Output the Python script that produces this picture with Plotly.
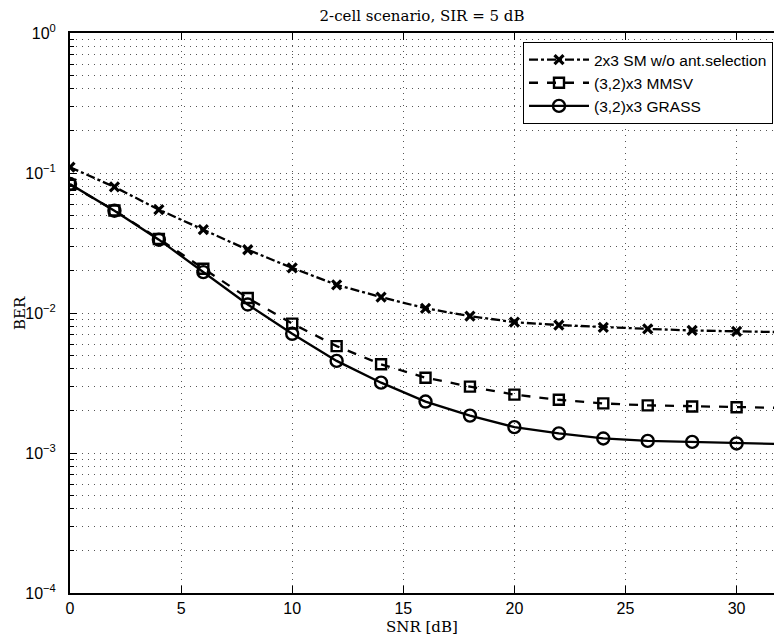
import plotly.graph_objects as go

snr = [0, 2, 4, 6, 8, 10, 12, 14, 16, 18, 20, 22, 24, 26, 28, 30, 32]
ber_sm = [0.110, 0.0795, 0.0547, 0.0394, 0.0283, 0.0210, 0.0159, 0.0130, 0.0108,
          0.0095, 0.0086, 0.0082, 0.0079, 0.0077, 0.0075, 0.0074, 0.0073]
ber_mmsv = [0.0825, 0.0540, 0.0338, 0.0207, 0.0128, 0.0084, 0.0058, 0.0043, 0.00345,
            0.00298, 0.00261, 0.0024, 0.00226, 0.00219, 0.00215, 0.00212, 0.0021]
ber_grass = [0.0834, 0.0538, 0.0334, 0.0196, 0.0115, 0.0071, 0.00455, 0.00318, 0.00233,
             0.00185, 0.00153, 0.00138, 0.00127, 0.00122, 0.0012, 0.00117, 0.00116]

names = ["2x3 SM w/o ant.selection", "(3,2)x3 MMSV", "(3,2)x3 GRASS"]

y_major = [1e-4, 1e-3, 1e-2, 1e-1, 1]
y_major_text = ["10<sup>\u22124</sup>", "10<sup>\u22123</sup>", "10<sup>\u22122</sup>",
                "10<sup>\u22121</sup>", "10<sup>0</sup>"]
y_minor = [k * 10.0 ** e for e in range(-4, 0) for k in range(2, 10)]
x_ticks = [0, 5, 10, 15, 20, 25, 30]

serif = "DejaVu Serif"
sans = "Liberation Sans, Arial, sans-serif"

fig = go.Figure()
fig.add_trace(go.Scatter(
    x=snr, y=ber_sm, name=names[0], mode="lines+markers",
    line=dict(color="black", width=2.3, dash="dashdot"),
    marker=dict(symbol="x-thin-open", size=9, color="black", line=dict(width=3.2, color="black")),
))
fig.add_trace(go.Scatter(
    x=snr, y=ber_mmsv, name=names[1], mode="lines+markers",
    line=dict(color="black", width=2.3, dash="dash"),
    marker=dict(symbol="square-open", size=10, color="black", line=dict(width=2.4, color="black")),
))
fig.add_trace(go.Scatter(
    x=snr, y=ber_grass, name=names[2], mode="lines+markers",
    line=dict(color="black", width=2.3, dash="solid"),
    marker=dict(symbol="circle-open", size=12, color="black", line=dict(width=2.4, color="black")),
))

grid = dict(gridcolor="#555", gridwidth=1, griddash="1px,5px")

fig.update_layout(
    width=774, height=639,
    margin=dict(l=70, r=0, t=33, b=46),
    paper_bgcolor="white", plot_bgcolor="white",
    title=dict(text="2-cell scenario, SIR = 5 dB", x=0.5, xref="paper", xanchor="center",
               y=1 - 16 / 639, yanchor="middle", font=dict(family=serif, size=15, color="black")),
    font=dict(family=sans, size=16, color="black"),
    showlegend=True,
    legend=dict(x=(773 - 70) / 704, xanchor="right", y=(593 - 42) / 560, yanchor="top",
                bgcolor="white", bordercolor="black", borderwidth=1,
                font=dict(family=sans, size=15.5, color="black"),
                itemwidth=60, tracegroupgap=0),
    xaxis=dict(range=[0, 704 / 22.22], tickvals=x_ticks, ticks="inside", ticklen=7,
               tickcolor="black", tickwidth=1, showline=True, linecolor="black", linewidth=2,
               mirror="allticks", showgrid=True, zeroline=False, **grid,
               tickfont=dict(family=sans, size=16, color="black")),
    yaxis=dict(type="log", range=[-4, 0], tickvals=y_major, ticktext=y_major_text,
               ticks="inside", ticklen=7, tickcolor="black", tickwidth=1,
               showline=True, linecolor="black", linewidth=2, mirror=False,
               showgrid=True, zeroline=False, **grid, ticklabelstandoff=9,
               tickfont=dict(family=sans, size=16, color="black"),
               minor=dict(tickvals=y_minor, ticks="inside", ticklen=4, tickcolor="black",
                          showgrid=True, gridcolor="#555", gridwidth=1, griddash="1px,5px")),
    annotations=[
        dict(text="SNR [dB]", xref="paper", yref="paper", x=0.5, y=-(627 - 593) / 560,
             xanchor="center", yanchor="middle", showarrow=False,
             font=dict(family=serif, size=15, color="black")),
        dict(text="BER", xref="paper", yref="paper", x=-(70 - 20) / 704, y=0.5,
             xanchor="center", yanchor="middle", textangle=-90, showarrow=False,
             font=dict(family=serif, size=15, color="black")),
    ],
)

fig.write_html("out.html")
